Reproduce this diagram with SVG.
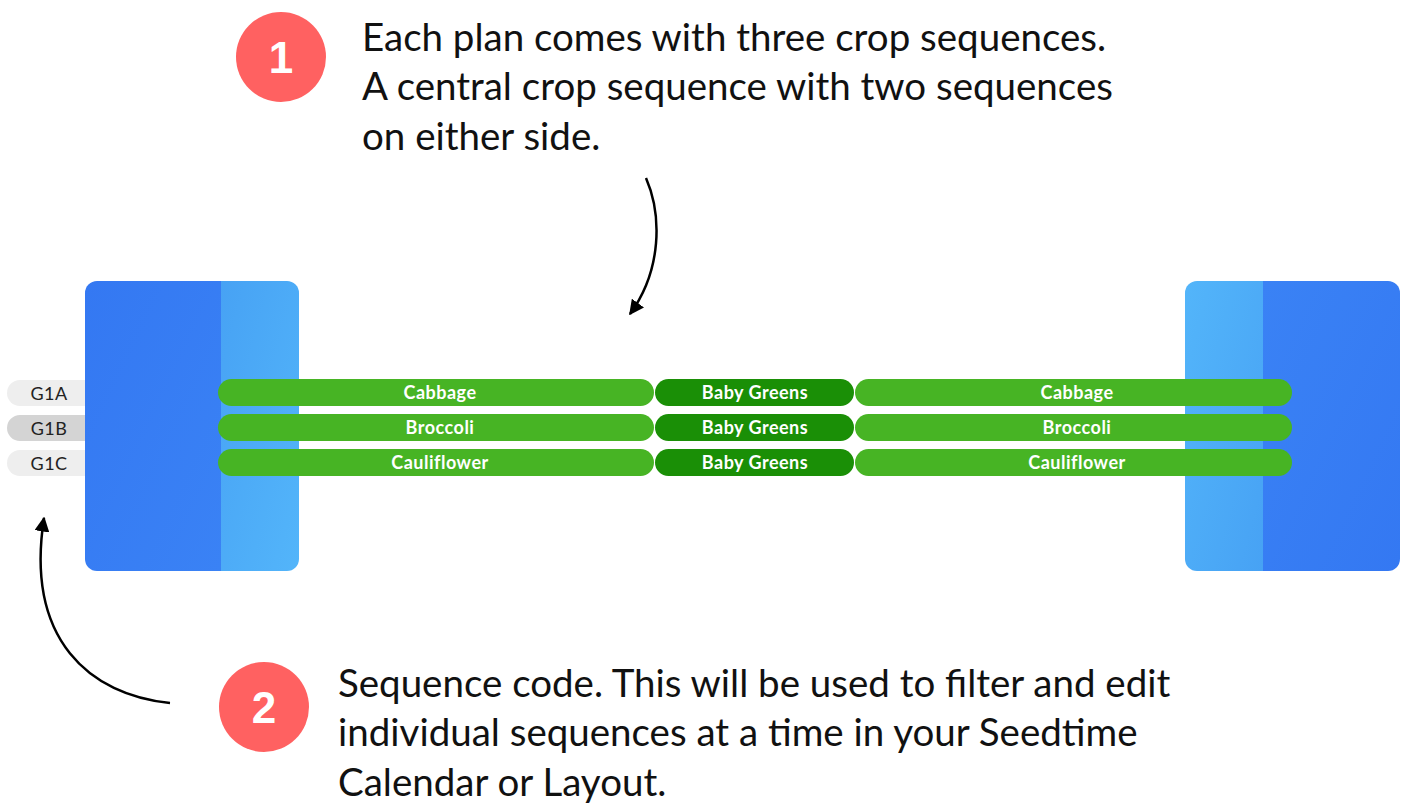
<svg xmlns="http://www.w3.org/2000/svg" width="1401" height="804" viewBox="0 0 1401 804">
<style>
.txt{font-family:Lato,"Noto Sans",sans-serif;font-size:38.5px;fill:#111}
.num{font-family:"Liberation Sans",Arial,sans-serif;font-weight:bold;font-size:44px;fill:#fff;text-anchor:middle}
.crop{font-family:Lato,"Noto Sans",sans-serif;font-weight:bold;font-size:18px;letter-spacing:0.5px;fill:#fff;text-anchor:middle}
.code{font-family:Lato,"Noto Sans",sans-serif;font-size:18px;letter-spacing:0.4px;fill:#222;text-anchor:middle}
.lg{fill:#47b424}
.dg{fill:#1a8f06}
.conn{fill:none;stroke:#000;stroke-width:2.5}
</style>
<defs>
<linearGradient id="dL" x1="0" y1="0" x2="1" y2="1"><stop offset="0" stop-color="#3478f2"/><stop offset="1" stop-color="#3a82f5"/></linearGradient>
<linearGradient id="lL" x1="0" y1="0" x2="1" y2="1"><stop offset="0" stop-color="#47a2f4"/><stop offset="1" stop-color="#53b5fa"/></linearGradient>
<linearGradient id="dR" x1="1" y1="1" x2="0" y2="0"><stop offset="0" stop-color="#3478f2"/><stop offset="1" stop-color="#3a82f5"/></linearGradient>
<linearGradient id="lR" x1="1" y1="1" x2="0" y2="0"><stop offset="0" stop-color="#47a2f4"/><stop offset="1" stop-color="#53b5fa"/></linearGradient>
<marker id="ah" viewBox="0 0 10 10" refX="9" refY="5" markerWidth="6" markerHeight="6" orient="auto" markerUnits="strokeWidth"><path d="M0,0 L10,5 L0,10 z" fill="#000"/></marker>
<clipPath id="cL"><rect x="85" y="281" width="214" height="290" rx="12"/></clipPath>
<clipPath id="cR"><rect x="1185" y="281" width="215" height="290" rx="12"/></clipPath>
</defs>

<g id="bed-left" clip-path="url(#cL)">
<rect x="85" y="281" width="136" height="290" fill="url(#dL)"/>
<rect x="221" y="281" width="78" height="290" fill="url(#lL)"/>
</g>
<g id="bed-right" clip-path="url(#cR)">
<rect x="1185" y="281" width="78" height="290" fill="url(#lR)"/>
<rect x="1263" y="281" width="137" height="290" fill="url(#dR)"/>
</g>

<g id="codes">
<g id="code-G1A"><path d="M85,380 H20 a13,13 0 0 0 0,26 H85 z" fill="#eeeeee"/><text class="code" x="49" y="400">G1A</text></g>
<g id="code-G1B"><path d="M85,415 H20 a13,13 0 0 0 0,26 H85 z" fill="#d4d4d4"/><text class="code" x="49" y="435">G1B</text></g>
<g id="code-G1C"><path d="M85,450 H20 a13,13 0 0 0 0,26 H85 z" fill="#eeeeee"/><text class="code" x="49" y="470">G1C</text></g>
</g>

<g id="row-G1A">
<rect class="lg" x="218" y="379" width="436" height="27" rx="13.5"/><text class="crop" x="440" y="399">Cabbage</text>
<rect class="dg" x="655" y="379" width="199" height="27" rx="13.5"/><text class="crop" x="755" y="399">Baby Greens</text>
<rect class="lg" x="855" y="379" width="437" height="27" rx="13.5"/><text class="crop" x="1077" y="399">Cabbage</text>
</g>
<g id="row-G1B">
<rect class="lg" x="218" y="414" width="436" height="27" rx="13.5"/><text class="crop" x="440" y="434">Broccoli</text>
<rect class="dg" x="655" y="414" width="199" height="27" rx="13.5"/><text class="crop" x="755" y="434">Baby Greens</text>
<rect class="lg" x="855" y="414" width="437" height="27" rx="13.5"/><text class="crop" x="1077" y="434">Broccoli</text>
</g>
<g id="row-G1C">
<rect class="lg" x="218" y="449" width="436" height="27" rx="13.5"/><text class="crop" x="440" y="469">Cauliflower</text>
<rect class="dg" x="655" y="449" width="199" height="27" rx="13.5"/><text class="crop" x="755" y="469">Baby Greens</text>
<rect class="lg" x="855" y="449" width="437" height="27" rx="13.5"/><text class="crop" x="1077" y="469">Cauliflower</text>
</g>

<g id="note-1">
<circle cx="281" cy="57" r="45" fill="#ff6161"/>
<text class="num" x="281" y="73">1</text>
<text class="txt" x="362" y="51">Each plan comes with three crop sequences.</text>
<text class="txt" x="362" y="100">A central crop sequence with two sequences</text>
<text class="txt" x="362" y="150">on either side.</text>
</g>
<g id="note-2">
<circle cx="264" cy="707" r="45" fill="#ff6161"/>
<text class="num" x="264" y="723">2</text>
<text class="txt" x="338" y="697">Sequence code. This will be used to filter and edit</text>
<text class="txt" x="338" y="746">individual sequences at a time in your Seedtime</text>
<text class="txt" x="338" y="796">Calendar or Layout.</text>
</g>

<g id="connectors">
<path class="conn" d="M646,178 C662,215 662,270 630,314" marker-end="url(#ah)"/>
<path class="conn" d="M170,703 C90,695 25,640 44,518" marker-end="url(#ah)"/>
</g>
</svg>
